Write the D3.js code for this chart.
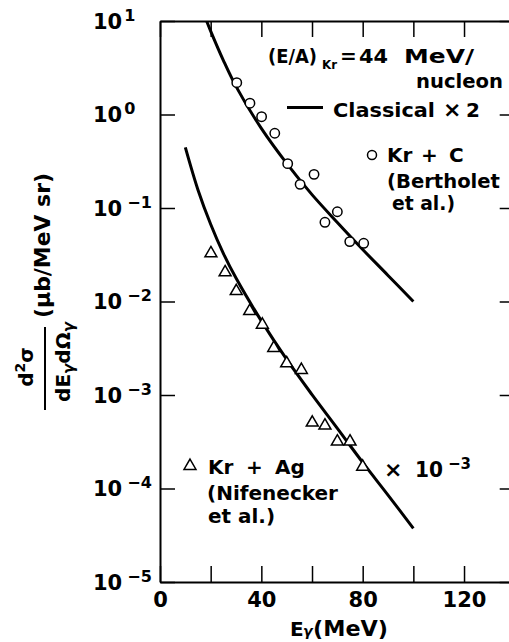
<!DOCTYPE html>
<html><head><meta charset="utf-8">
<script src="https://cdn.jsdelivr.net/npm/d3@7"></script>
<style>
body{margin:0;background:#fff}
svg{display:block}
text{font-family:"DejaVu Sans",sans-serif;font-weight:bold;fill:#000}
</style>
</head><body>
<svg id="c" width="509" height="642"></svg>
<script>
// ---- data ----
const xTickValues = [0, 20, 40, 60, 80, 100, 120, 140];
const xTickLabels = [0, 40, 80, 120];
const yTickExps = [1, 0, -1, -2, -3, -4, -5];

// Kr + C (Bertholet et al.)
const krC_E = [30.3, 35.5, 40.1, 45.3, 50.4, 55.3, 60.8, 65.1, 70.0, 74.9, 80.4];
const krC_Y = [2.19, 1.32, 0.947, 0.63, 0.298, 0.179, 0.229, 0.0703, 0.0912, 0.0437, 0.0419];

// Kr + Ag (Nifenecker et al.) x 10^-3
const krAg_E = [20.1, 25.7, 30.1, 35.4, 40.4, 44.9, 50.0, 55.8, 60.1, 65.1, 70.0, 75.0, 80.0];
const krAg_Y = [0.0327, 0.0205, 0.0129, 0.0079, 0.00565, 0.00318, 0.00218, 0.00185, 5.06e-4, 4.7e-4, 3.17e-4, 3.17e-4, 1.71e-4];

// Classical x 2 curves
const clsC_E = [18.4, 20, 25, 30, 40, 50, 60, 70, 80, 90, 100];
const clsC_Y = [10, 7.8, 3.8, 2.0, 0.71, 0.30, 0.139, 0.070, 0.036, 0.019, 0.0100];
const clsAg_E = [10, 15, 20, 25, 30, 40, 50, 60, 70, 80, 90, 100];
const clsAg_Y = [0.445, 0.156, 0.067, 0.0327, 0.0178, 0.0062, 0.0024, 0.00101, 4.4e-4, 1.9e-4, 8.5e-5, 3.75e-5];

// ---- drawing ----
const L = 160, R = 514.7, T = 21, B = 582;
const x = d3.scaleLinear().domain([0, 140]).range([L, R]);
const y = d3.scaleLog().domain([1e-5, 10]).range([B, T]);
const svg = d3.select("#c");

svg.append("clipPath").attr("id", "pc").append("rect")
  .attr("x", L).attr("y", T).attr("width", R - L).attr("height", B - T);

function styleAxis(g) {
  g.select(".domain").attr("stroke", "#000").attr("stroke-width", 2);
  g.selectAll(".tick line").attr("stroke", "#000").attr("stroke-width", 1.5);
}

// bottom axis
const gB = svg.append("g").attr("transform", `translate(0,${B})`)
  .call(d3.axisBottom(x).tickValues(xTickValues).tickSizeInner(-16).tickSizeOuter(0)
    .tickPadding(10).tickFormat(d => xTickLabels.includes(d) ? d : ""));
styleAxis(gB);
gB.selectAll(".tick text").attr("font-size", 21).attr("font-family", "DejaVu Sans").attr("font-weight", "bold").attr("fill", "#000");

// top axis
const gT = svg.append("g").attr("transform", `translate(0,${T})`)
  .call(d3.axisTop(x).tickValues(xTickValues).tickSizeInner(-16).tickSizeOuter(0).tickFormat(""));
styleAxis(gT);

// left / right axes
const yTickVals = yTickExps.map(e => Math.pow(10, e));
const gL = svg.append("g").attr("transform", `translate(${L},0)`)
  .call(d3.axisLeft(y).tickValues(yTickVals).tickSizeInner(-15).tickSizeOuter(0).tickFormat(""));
styleAxis(gL);
const gR = svg.append("g").attr("transform", `translate(${R},0)`)
  .call(d3.axisRight(y).tickValues(yTickVals).tickSizeInner(-15).tickSizeOuter(0).tickFormat(""));
styleAxis(gR);

// y tick labels with superscripts
yTickExps.forEach(e => {
  const t = svg.append("text").attr("x", 93).attr("y", y(Math.pow(10, e)) + 7.5).attr("font-size", 21);
  t.append("tspan").text("10");
  t.append("tspan").attr("font-size", 16).attr("dy", -8).attr("dx", e < 0 ? 5 : 2)
    .text(e < 0 ? "\u2212" + (-e) : String(e));
});

// curves
const line = d3.line().x(d => x(d[0])).y(d => y(d[1])).curve(d3.curveCatmullRom);
const plot = svg.append("g").attr("clip-path", "url(#pc)");
[[clsC_E, clsC_Y], [clsAg_E, clsAg_Y]].forEach(([E, Y]) => {
  plot.append("path").datum(E.map((e, i) => [e, Y[i]]))
    .attr("d", line).attr("fill", "none").attr("stroke", "#000").attr("stroke-width", 3);
});

// circles
svg.append("g").selectAll("circle").data(krC_E.map((e, i) => [e, krC_Y[i]])).join("circle")
  .attr("cx", d => x(d[0])).attr("cy", d => y(d[1])).attr("r", 4.7)
  .attr("fill", "#fff").attr("stroke", "#000").attr("stroke-width", 1.5);

// triangles
const tri = d3.symbol(d3.symbolTriangle, 62);
svg.append("g").selectAll("path").data(krAg_E.map((e, i) => [e, krAg_Y[i]])).join("path")
  .attr("d", tri).attr("transform", d => `translate(${x(d[0])},${y(d[1])})`)
  .attr("fill", "#fff").attr("stroke", "#000").attr("stroke-width", 1.5);

// ---- text helper ----
function lab(parent, px, py, s, size, w, anchor) {
  const t = parent.append("text").attr("x", px).attr("y", py).attr("font-size", size).text(s);
  if (anchor) t.attr("text-anchor", anchor);
  if (w) t.attr("textLength", w).attr("lengthAdjust", "spacingAndGlyphs");
  return t;
}

// ---- legend / annotations ----
lab(svg, 268, 63, "(E/A)", 20, 49);
lab(svg, 322, 69, "Kr", 13, 15);
lab(svg, 340, 63, "=", 20);
lab(svg, 359, 63, "44", 20, 29);
lab(svg, 404, 63, "MeV/", 20, 70);
lab(svg, 503, 88, "nucleon", 20, 87, "end");

svg.append("line").attr("x1", 287).attr("x2", 323).attr("y1", 107.5).attr("y2", 107.5)
  .attr("stroke", "#000").attr("stroke-width", 3);
lab(svg, 333, 117, "Classical", 20, 102);
lab(svg, 443, 117, "\u00d7", 22);
lab(svg, 466, 117, "2", 20);

svg.append("circle").attr("cx", 372).attr("cy", 155).attr("r", 4.5)
  .attr("fill", "#fff").attr("stroke", "#000").attr("stroke-width", 1.5);
lab(svg, 387, 162, "Kr", 20);
lab(svg, 421, 162, "+", 20);
lab(svg, 449, 162, "C", 20);
lab(svg, 387, 188, "(Bertholet", 20, 113);
lab(svg, 392, 210, "et al.)", 20, 63);

svg.append("path").attr("d", d3.symbol(d3.symbolTriangle, 62))
  .attr("transform", "translate(190,466)")
  .attr("fill", "#fff").attr("stroke", "#000").attr("stroke-width", 1.5);
lab(svg, 208, 474, "Kr", 20);
lab(svg, 246, 474, "+", 20);
lab(svg, 275, 474, "Ag", 20);
lab(svg, 207, 500, "(Nifenecker", 20, 131);
lab(svg, 208, 523, "et al.)", 20, 67);

lab(svg, 384, 477, "\u00d7", 22);
lab(svg, 415, 477, "10", 21, 28);
lab(svg, 448, 469, "\u22123", 16, 23);

// x axis title
lab(svg, 290, 636, "E", 20);
lab(svg, 303, 636, "\u03b3", 14).attr("font-style", "italic");
lab(svg, 313, 636, "(MeV)", 21, 75);

// y axis title (rotated fraction)
const yt = svg.append("g").attr("transform", "rotate(-90)");
const num = yt.append("text").attr("x", -367).attr("y", 33).attr("text-anchor", "middle").attr("font-size", 20);
num.append("tspan").text("d");
num.append("tspan").attr("font-size", 14).attr("dy", -8).text("2");
num.append("tspan").attr("dy", 8).text("\u03c3");
yt.append("line").attr("x1", -327).attr("x2", -410).attr("y1", 45).attr("y2", 45)
  .attr("stroke", "#000").attr("stroke-width", 2);
const den = yt.append("text").attr("x", -362).attr("y", 70).attr("text-anchor", "middle").attr("font-size", 20);
den.append("tspan").text("dE");
den.append("tspan").attr("font-size", 15).attr("dy", 4).attr("font-style", "italic").text("\u03b3");
den.append("tspan").attr("dy", -4).text("d\u03a9");
den.append("tspan").attr("font-size", 15).attr("dy", 4).attr("font-style", "italic").text("\u03b3");
lab(yt, -318, 50, "(\u03bcb/MeV sr)", 21, 145);
</script>
</body></html>
